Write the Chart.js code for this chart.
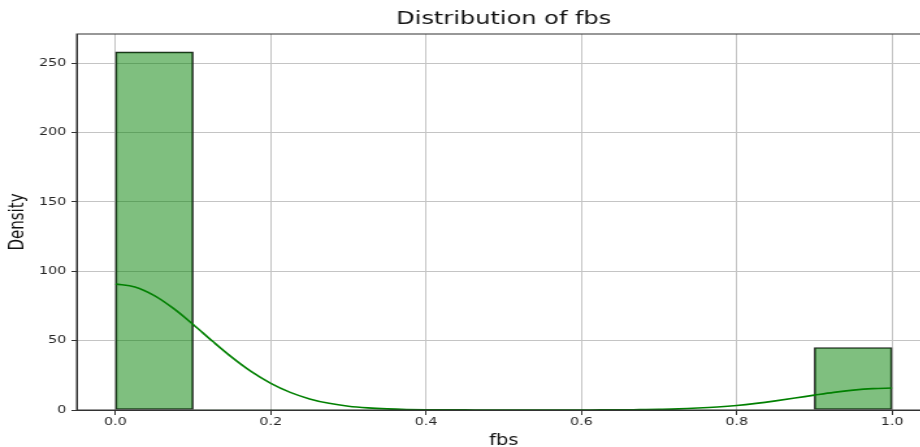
<!DOCTYPE html>
<html>
<head>
<meta charset="utf-8">
<title>Distribution of fbs</title>
<script src="https://cdn.jsdelivr.net/npm/chart.js@4.4.1/dist/chart.umd.min.js"></script>
<style>
  html, body { margin: 0; padding: 0; width: 920px; height: 447px; overflow: hidden; background: #fff; }
  /* the reference is a horizontally stretched picture, so the canvas is stretched too */
  #wrap { width: 720px; height: 447px; transform: scaleX(1.3); transform-origin: 0 0; }
</style>
</head>
<body>
<div id="wrap"><canvas id="fbsChart" width="720" height="447"></canvas></div>
<script>
// histogram bins (centres) and counts
const binCenters = [0.05, 0.15, 0.25, 0.35, 0.45, 0.55, 0.65, 0.75, 0.85, 0.95];
const binCounts = [258, 0, 0, 0, 0, 0, 0, 0, 0, 45];

// kde curve
const kdeX = [0, 0.025, 0.05, 0.075, 0.1, 0.125, 0.15, 0.175, 0.2, 0.225,
    0.25, 0.275, 0.3, 0.325, 0.35, 0.375, 0.4, 0.425, 0.45, 0.475,
    0.5, 0.525, 0.55, 0.575, 0.6, 0.625, 0.65, 0.675, 0.7, 0.725,
    0.75, 0.775, 0.8, 0.825, 0.85, 0.875, 0.9, 0.925, 0.95, 0.975, 1.0];
const kdeY = [90.8, 88.6, 82.4, 73.0, 61.6, 49.5, 37.9, 27.6, 19.2, 12.7,
    8.0, 4.8, 2.7, 1.5, 0.8, 0.4, 0.2, 0.1, 0.1, 0.0,
    0.0, 0.0, 0.0, 0.0, 0.0, 0.1, 0.1, 0.3, 0.5, 0.8,
    1.4, 2.2, 3.3, 4.8, 6.6, 8.6, 10.7, 12.7, 14.3, 15.4, 15.8];

const xTicks = [0.0, 0.2, 0.4, 0.6, 0.8, 1.0];
const yTicks = [0, 50, 100, 150, 200, 250];

const FONT = "'DejaVu Sans', sans-serif";

// frame round the plot (top / right spines)
const framePlugin = {
    id: 'frame',
    afterDraw(chart) {
        const { ctx, chartArea } = chart;
        ctx.save();
        ctx.strokeStyle = '#333';
        ctx.lineWidth = 1;
        ctx.strokeRect(chartArea.left, chartArea.top, chartArea.right - chartArea.left, chartArea.bottom - chartArea.top);
        ctx.restore();
    }
};

const ctx = document.getElementById('fbsChart').getContext('2d');
new Chart(ctx, {
    data: {
        datasets: [
            {
                type: 'line',
                label: 'kde',
                data: kdeX.map((x, i) => ({ x: x, y: kdeY[i] })),
                borderColor: '#008000',
                borderWidth: 1.6,
                pointRadius: 0,
                cubicInterpolationMode: 'monotone',
                fill: false,
                order: 0
            },
            {
                type: 'bar',
                label: 'count',
                data: binCenters.map((x, i) => ({ x: x, y: binCounts[i] })),
                backgroundColor: 'rgba(0, 128, 0, 0.5)',
                borderColor: '#222',
                borderWidth: c => (c.raw && c.raw.y > 0 ? 1 : 0),
                borderSkipped: false,
                barPercentage: 1.0,
                categoryPercentage: 1.0,
                order: 1
            }
        ]
    },
    options: {
        responsive: false,
        animation: false,
        devicePixelRatio: 1,
        layout: { padding: { left: 0, right: 4, top: 0, bottom: 0 } },
        plugins: {
            legend: { display: false },
            tooltip: { enabled: false },
            title: {
                display: true,
                text: 'Distribution of fbs',
                fullSize: false,
                color: '#111',
                font: { family: FONT, size: 18.5, weight: 'normal' },
                padding: { top: 8.5, bottom: 3.3 }
            }
        },
        scales: {
            x: {
                type: 'linear',
                min: -0.05,
                max: 1.05,
                offset: false,
                afterBuildTicks: s => { s.ticks = xTicks.map(v => ({ value: v })); },
                afterFit: s => { s.height = 37; },
                ticks: {
                    color: '#262626',
                    font: { family: FONT, size: 11 },
                    padding: 1,
                    maxRotation: 0,
                    autoSkip: false,
                    callback: v => Number(v).toFixed(1)
                },
                grid: { offset: false, color: '#c4c4c4', lineWidth: 1, tickColor: '#333', tickLength: 5 },
                border: { color: '#333', width: 1 },
                title: {
                    display: true,
                    text: 'fbs',
                    color: '#111',
                    font: { family: FONT, size: 15, lineHeight: 0.75 },
                    padding: { top: 0, bottom: 0 }
                }
            },
            y: {
                type: 'linear',
                min: 0,
                max: 270.9,
                afterBuildTicks: s => { s.ticks = yTicks.map(v => ({ value: v })); },
                afterFit: s => { s.width = 59; },
                ticks: {
                    color: '#262626',
                    font: { family: FONT, size: 11 },
                    padding: 4
                },
                grid: { color: '#c4c4c4', lineWidth: 1, tickColor: '#333', tickLength: 4 },
                border: { color: '#333', width: 1 },
                title: {
                    display: true,
                    text: 'Density',
                    color: '#111',
                    font: { family: FONT, size: 15 },
                    padding: { top: 5, bottom: 0 }
                }
            }
        }
    },
    plugins: [framePlugin]
});
</script>
</body>
</html>
